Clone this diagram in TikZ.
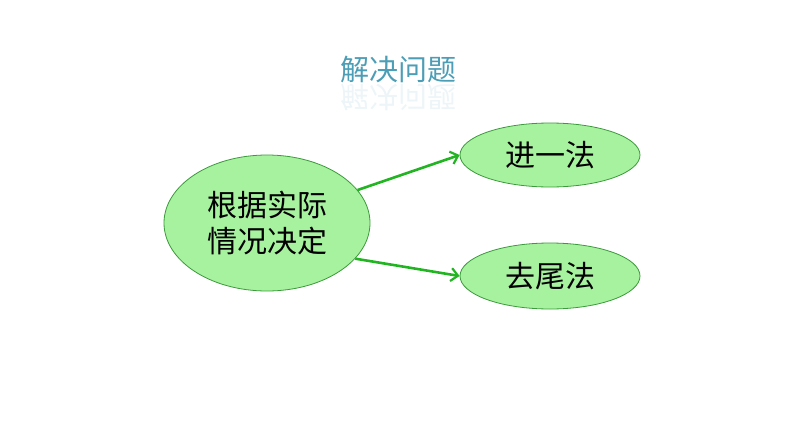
\documentclass[tikz,border=0pt]{standalone}
\usepackage{fontspec}
\newfontfamily\cjk{Noto Sans CJK SC}
\usepackage{tikz}
\usetikzlibrary{%
	shapes.geometric,%
	arrows.meta%
}
\definecolor{leafgreen}{HTML}{A6F29E}
\definecolor{rimgreen}{HTML}{3C9A3C}
\definecolor{arrowgreen}{HTML}{22B422}
\definecolor{titleteal}{HTML}{4C9DB6}
\tikzset{
	bubble/.style={ellipse,draw=rimgreen,fill=leafgreen,line width=0.8pt,inner sep=0pt,
		font=\cjk\fontsize{30}{36}\selectfont},
	heading/.style={text=titleteal,font=\cjk\fontsize{29}{29}\selectfont},
	branch/.style={arrowgreen,line width=2.6pt,-{Straight Barb[length=7pt,width=13pt,line width=2.2pt]}}
}

\begin{document}
\begin{tikzpicture}[x=1pt,y=-1pt]
\useasboundingbox (0,0) rectangle (794,447);

% Title with faint reflection
\node [heading] (title) at (398,70) {解决问题};
\node [heading,yscale=-1,opacity=0.1] (mirror) at (398,97) {解决问题};

% Ellipses
\node [bubble,minimum width=206pt,minimum height=136pt,align=center] (base) at (267,223)
	{根据实际\\情况决定};
\node [bubble,minimum width=180pt,minimum height=64pt] (up) at (550,155) {进一法};
\node [bubble,minimum width=180pt,minimum height=66pt] (down) at (550,276) {去尾法};

% Arrows
\draw [branch] (base.20) -- (up.west);
\draw [branch] (base.-22) -- (down.west);
\end{tikzpicture}
\end{document}
